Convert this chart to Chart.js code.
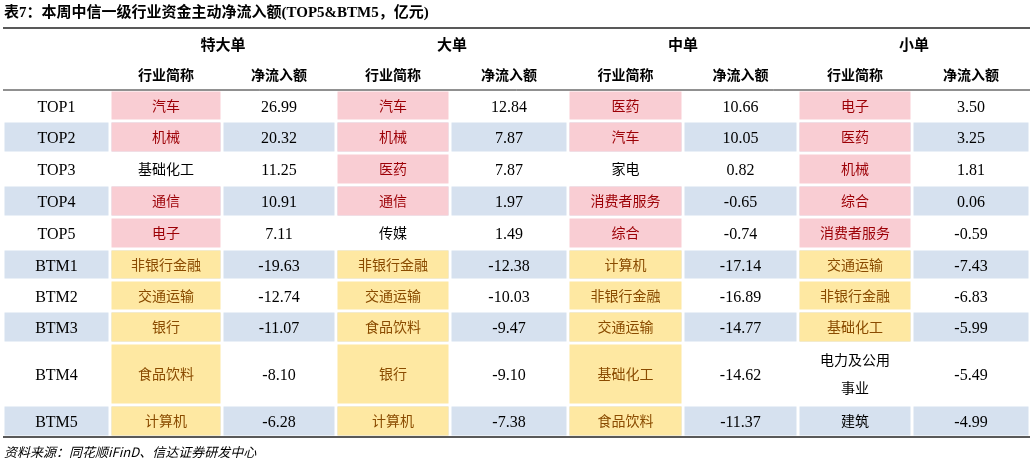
<!DOCTYPE html>
<html><head><meta charset="utf-8">
<script src="https://cdn.jsdelivr.net/npm/chart.js@4.4.0/dist/chart.umd.min.js"></script>
<style>html,body{margin:0;background:#fff}#wrap{width:1033px;height:465px}</style>
</head><body><div id="wrap"><canvas id="c"></canvas></div>
<script>
// table data
const groups = ['特大单', '大单', '中单', '小单'];
const rowLabels = ['TOP1','TOP2','TOP3','TOP4','TOP5','BTM1','BTM2','BTM3','BTM4','BTM5'];
const names = [
  ['汽车','机械','基础化工','通信','电子','非银行金融','交通运输','银行','食品饮料','计算机'],
  ['汽车','机械','医药','通信','传媒','非银行金融','交通运输','食品饮料','银行','计算机'],
  ['医药','汽车','家电','消费者服务','综合','计算机','非银行金融','交通运输','基础化工','食品饮料'],
  ['电子','医药','机械','综合','消费者服务','交通运输','非银行金融','基础化工','电力及公用\n事业','建筑']
];
const values = [
  [26.99,20.32,11.25,10.91,7.11,-19.63,-12.74,-11.07,-8.10,-6.28],
  [12.84,7.87,7.87,1.97,1.49,-12.38,-10.03,-9.47,-9.10,-7.38],
  [10.66,10.05,0.82,-0.65,-0.74,-17.14,-16.89,-14.77,-14.62,-11.37],
  [3.50,3.25,1.81,0.06,-0.59,-7.43,-6.83,-5.99,-5.49,-4.99]
];
// cell highlight: p = pink, y = yellow, '' = none
const marks = [
  ['p','p','','p','p','y','y','y','y','y'],
  ['p','p','p','p','','y','y','y','y','y'],
  ['p','p','','p','p','y','y','y','y','y'],
  ['p','p','p','p','p','y','y','y','','']
];
const blueRows = [1,3,5,7,9];

// layout (in scale units)
const colEdges = [3,110,222,336,450,568,683,798,912,1030];
const rowEdges = [90,121,153,185,217,249,280,311,343,405,437];

const fills = {p:'#f9cdd3', y:'#fee8a2', b:'#d6e1ef'};
const inks = {p:'#9c0006', y:'#8a4b00', '':'#000'};
const SERIF = '16px "Liberation Serif"';

const tablePlugin = {
  id: 'table',
  afterDraw(chart) {
    const c = chart.ctx, xs = chart.scales.x, ys = chart.scales.y;
    const X = v => xs.getPixelForValue(v), Y = v => ys.getPixelForValue(v);
    const cell = (x0, x1, y0, y1, col) => {
      c.fillStyle = col;
      c.fillRect(X(x0) + 1.5, Y(y0) + 1.5, X(x1) - X(x0) - 3, Y(y1) - Y(y0) - 3);
    };
    const text = (s, x, y, font, col, dy = 0) => {
      c.font = font; c.fillStyle = col; c.textAlign = 'center'; c.textBaseline = 'middle';
      const lines = s.split('\n');
      lines.forEach((l, i) => c.fillText(l, x, y + dy + (i - (lines.length - 1) / 2) * 28));
    };
    c.save();
    c.font = 'bold 15px "Liberation Serif","Noto Sans CJK SC"';
    c.fillStyle = '#000'; c.textAlign = 'left'; c.textBaseline = 'middle';
    c.fillText('表7：本周中信一级行业资金主动净流入额(TOP5&BTM5，亿元)', X(4), Y(13));
    for (let r = 0; r < rowLabels.length; r++) {
      const y0 = rowEdges[r], y1 = rowEdges[r + 1], ym = Y((y0 + y1) / 2);
      if (blueRows.includes(r)) {
        for (let k = 0; k < colEdges.length - 1; k++) cell(colEdges[k], colEdges[k + 1], y0, y1, fills.b);
      }
      text(rowLabels[r], X((colEdges[0] + colEdges[1]) / 2), ym, SERIF, '#000', 2);
      for (let g = 0; g < 4; g++) {
        const m = marks[g][r];
        const nx0 = colEdges[1 + 2 * g], nx1 = colEdges[2 + 2 * g], vx1 = colEdges[3 + 2 * g];
        if (m) cell(nx0, nx1, y0, y1, fills[m]);
        text(names[g][r], X((nx0 + nx1) / 2), ym, '14px "Noto Sans CJK SC"', inks[m]);
        text(values[g][r].toFixed(2), X((nx1 + vx1) / 2), ym, SERIF, '#000', 2);
      }
    }
    for (let g = 0; g < 4; g++) {
      const nx0 = colEdges[1 + 2 * g], nx1 = colEdges[2 + 2 * g], vx1 = colEdges[3 + 2 * g];
      text(groups[g], X((nx0 + vx1) / 2), Y(44), 'bold 15px "Noto Sans CJK SC"', '#000');
      text('行业简称', X((nx0 + nx1) / 2), Y(75), 'bold 14px "Noto Sans CJK SC"', '#000');
      text('净流入额', X((nx1 + vx1) / 2), Y(75), 'bold 14px "Noto Sans CJK SC"', '#000');
    }
    c.strokeStyle = '#222';
    [[28, 1.5], [90, 1], [437, 1.5]].forEach(([y, w]) => {
      c.lineWidth = w; c.beginPath(); c.moveTo(X(3), Y(y)); c.lineTo(X(1030), Y(y)); c.stroke();
    });
    c.font = 'italic 13px "Noto Sans CJK SC"'; c.fillStyle = '#000'; c.textAlign = 'left';
    c.fillText('资料来源：同花顺iFinD、信达证券研发中心', X(4), Y(452));
    c.restore();
  }
};

new Chart(document.getElementById('c'), {
  type: 'scatter',
  data: { datasets: [] },
  options: {
    responsive: true, maintainAspectRatio: false, animation: false,
    layout: { padding: 0 },
    plugins: { legend: { display: false }, tooltip: { enabled: false } },
    scales: {
      x: { type: 'linear', min: 0, max: 1033, display: false },
      y: { type: 'linear', min: 0, max: 465, reverse: true, display: false }
    }
  },
  plugins: [tablePlugin]
});
</script></body></html>
